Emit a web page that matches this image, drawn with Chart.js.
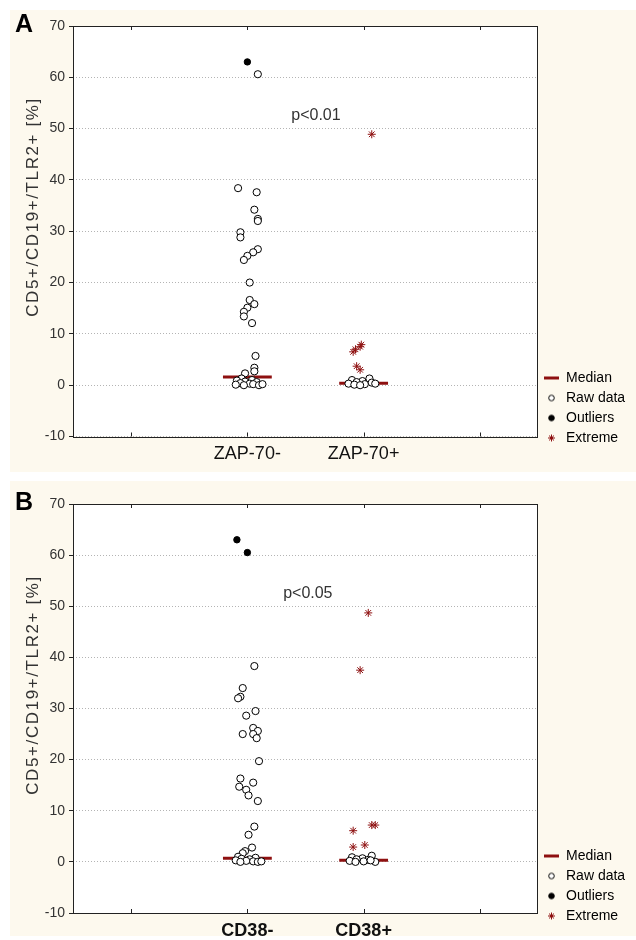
<!DOCTYPE html>
<html>
<head>
<meta charset="utf-8">
<script src="https://cdn.jsdelivr.net/npm/chart.js@4.4.0/dist/chart.umd.min.js"></script>
<style>
html, body { margin: 0; padding: 0; background: #fff; }
.panel { position: absolute; left: 10px; width: 626px; background: #fdf9ee; }
#panelA { top: 10px; height: 462px; }
#panelB { top: 481px; height: 455px; }
canvas { display: block; }
</style>
</head>
<body>
<div class="panel" id="panelA"><canvas id="chartA" width="626" height="462"></canvas></div>
<div class="panel" id="panelB"><canvas id="chartB" width="626" height="459"></canvas></div>
<script>
// ---- data ----
const yTitle = 'CD5+/CD19+/TLR2+ [%]';
const xTickValues = [1, 2, 3, 4];
const legendTexts = ['Median', 'Raw data', 'Outliers', 'Extreme'];

// panel A : ZAP-70
const zapCategories = ['ZAP-70-', 'ZAP-70+'];
const zapMedians = [1.6, 0.4];
const zapNegRaw = [60.6, 38.4, 37.6, 34.2, 32.4, 32.0, 29.8, 28.8, 26.5, 25.9, 25.2, 24.4, 20.0, 16.6, 15.8, 15.1, 14.3, 13.4, 12.1, 5.7, 3.4, 2.7, 2.3, 1.3, 1.0, 0.9, 0.7, 0.6, 0.4, 0.3, 0.2, 0.1, 0.0, 0.0, 0.2];
const zapNegRawJitter = [0.09, -0.08, 0.08, 0.06, 0.09, 0.09, -0.06, -0.06, 0.09, 0.05, 0.0, -0.03, 0.02, 0.02, 0.06, 0.0, -0.03, -0.03, 0.04, 0.07, 0.06, 0.06, -0.02, -0.05, 0.04, -0.09, -0.02, 0.08, -0.06, 0.02, 0.05, -0.1, -0.03, 0.1, 0.13];
const zapNegOutliers = [63.0];
const zapNegOutliersJitter = [0.0];
const zapPosRaw = [1.3, 1.0, 0.8, 0.6, 0.5, 0.3, 0.2, 0.1, 0.0, 0.3];
const zapPosRawJitter = [0.05, -0.1, -0.01, -0.06, 0.07, -0.13, 0.01, -0.08, -0.03, 0.1];
const zapPosExtreme = [48.9, 7.9, 7.5, 7.0, 6.5, 3.7, 3.0];
const zapPosExtremeJitter = [0.07, -0.02, -0.03, -0.07, -0.09, -0.06, -0.03];

// panel B : CD38
const cd38Categories = ['CD38-', 'CD38+'];
const cd38Medians = [0.7, 0.3];
const cd38NegRaw = [38.3, 34.0, 32.3, 32.0, 29.5, 28.6, 26.2, 25.6, 25.0, 25.0, 24.2, 19.7, 16.3, 15.5, 14.7, 14.1, 13.0, 11.9, 6.9, 5.3, 2.8, 2.1, 1.7, 1.0, 0.8, 0.6, 0.5, 0.3, 0.2, 0.1, 0.0, 0.0, 0.1];
const cd38NegRawJitter = [0.06, -0.04, -0.06, -0.08, 0.07, -0.01, 0.05, 0.09, -0.04, 0.05, 0.08, 0.1, -0.06, 0.05, -0.07, -0.01, 0.01, 0.09, 0.06, 0.01, 0.04, -0.02, -0.04, -0.08, 0.07, -0.05, 0.02, -0.1, -0.01, 0.05, -0.06, 0.09, 0.12];
const cd38NegOutliers = [63.0, 60.5];
const cd38NegOutliersJitter = [-0.09, 0.0];
const cd38PosRaw = [1.2, 0.9, 0.7, 0.5, 0.4, 0.2, 0.1, 0.0, 0.0, 0.3];
const cd38PosRawJitter = [0.07, -0.1, -0.01, -0.06, 0.04, -0.12, 0.0, -0.07, 0.1, 0.06];
const cd38PosExtreme = [48.7, 37.5, 7.2, 7.2, 6.1, 3.3, 2.9];
const cd38PosExtremeJitter = [0.04, -0.03, 0.07, 0.1, -0.09, 0.01, -0.09];

// ---- styling ----
const FONT = 'Arial, "Liberation Sans", sans-serif';
const RED = '#8e1010';
const MED_HALF = 0.21;
Chart.defaults.font.family = FONT;

function pts(center, values, jitter) {
	return values.map((v, i) => ({x: center + jitter[i], y: v}));
}

function markerImage(w, h, style) {
	let c = document.createElement('canvas');
	c.width = w;
	c.height = h;
	let ctx = c.getContext('2d');
	if(style == 'median') {
		ctx.fillStyle = RED;
		ctx.fillRect(0, 1, w, 3);
	} else {
		ctx.lineWidth = 1;
		ctx.strokeStyle = style == 'extreme' ? RED : '#000';
		ctx.fillStyle = style == 'outlier' ? '#000' : '#fff';
		Chart.helpers.drawPoint(ctx, {
			pointStyle: style == 'extreme' ? 'star' : 'circle',
			radius: style == 'extreme' ? 3.5 : 2.8,
			borderWidth: 1,
			rotation: 0,
		}, w / 2, h / 2);
	}
	return c;
}

const legendMarkers = [
	markerImage(15, 5, 'median'),
	markerImage(11, 11, 'raw'),
	markerImage(11, 11, 'outlier'),
	markerImage(11, 11, 'extreme'),
];

// measure legend so the plot's right edge lands where it should
let mctx = document.createElement('canvas').getContext('2d');
mctx.font = '14px ' + FONT;
let maxText = Math.max(...legendTexts.map(t => mctx.measureText(t).width));
let legendW = 6 + 15 + 7 + maxText + 10;

const decorPlugin = {
	id: 'decor',
	afterLayout: function(chart, args, o) {
		// pull the legend up so its last row sits level with the bottom of the plot
		chart.legend.top += o.legendShift;
		chart.legend.bottom += o.legendShift;
	},
	beforeDraw: function(chart) {
		let a = chart.chartArea;
		let ctx = chart.ctx;
		ctx.save();
		ctx.fillStyle = '#fff';
		ctx.fillRect(a.left, a.top, a.width, a.height);
		ctx.restore();
	},
	afterDraw: function(chart, args, o) {
		let ctx = chart.ctx;
		let a = chart.chartArea;
		let x = chart.scales.x, y = chart.scales.y;
		ctx.save();
		ctx.strokeStyle = '#222';
		ctx.lineWidth = 1;
		ctx.strokeRect(Math.round(a.left) + 0.5, Math.round(a.top) + 0.5, Math.round(a.width) - 1, Math.round(a.height));
		ctx.beginPath();
		xTickValues.forEach(v => {
			let px = Math.round(x.getPixelForValue(v)) + 0.5;
			ctx.moveTo(px, a.top);
			ctx.lineTo(px, a.top + 4);
			ctx.moveTo(px, a.bottom);
			ctx.lineTo(px, a.bottom - 4);
		});
		ctx.stroke();
		// panel letter
		ctx.fillStyle = '#000';
		ctx.font = 'bold 25px ' + FONT;
		ctx.textAlign = 'left';
		ctx.textBaseline = 'alphabetic';
		ctx.fillText(o.letter, 5, a.top + 6);
		// y title
		ctx.save();
		ctx.translate(23, a.top + 181);
		ctx.rotate(-Math.PI / 2);
		ctx.font = '17px ' + FONT;
		ctx.letterSpacing = '1.6px';
		ctx.textAlign = 'center';
		ctx.textBaseline = 'middle';
		ctx.fillStyle = '#333';
		ctx.fillText(yTitle, 0, 0);
		ctx.restore();
		// significance label
		ctx.font = '16px ' + FONT;
		ctx.fillStyle = '#333';
		ctx.textAlign = 'center';
		ctx.textBaseline = 'middle';
		ctx.fillText(o.pText, x.getPixelForValue(o.pX), y.getPixelForValue(o.pY));
		ctx.restore();
	},
};

function buildChart(canvasId, p) {
	let datasets = [
		{type: 'line', showLine: true, data: [{x: 2 - MED_HALF, y: p.medians[0]}, {x: 2 + MED_HALF, y: p.medians[0]}], borderColor: RED, borderWidth: 3, pointRadius: 0, order: 4},
		{type: 'line', showLine: true, data: [{x: 3 - MED_HALF, y: p.medians[1]}, {x: 3 + MED_HALF, y: p.medians[1]}], borderColor: RED, borderWidth: 3, pointRadius: 0, order: 4},
		{data: pts(2, p.negRaw, p.negRawJitter).concat(pts(3, p.posRaw, p.posRawJitter)), pointStyle: 'circle', pointRadius: 3.6, backgroundColor: '#fff', borderColor: '#000', borderWidth: 1, order: 3},
		{data: pts(2, p.negOut, p.negOutJitter), pointStyle: 'circle', pointRadius: 3.2, backgroundColor: '#000', borderColor: '#000', borderWidth: 1, order: 2},
		{data: pts(3, p.posExt, p.posExtJitter), pointStyle: 'star', pointRadius: 4, backgroundColor: RED, borderColor: RED, borderWidth: 1, order: 1},
	];
	let padRight = Math.max(0, p.width - p.plotRight - legendW);
	// legend row centre ends up 13px above the canvas bottom; move it to the wanted spot
	let legendShift = p.legendLastY - (p.height - 13);
	let config = {
		type: 'scatter',
		data: {datasets: datasets},
		options: {
			responsive: false,
			animation: false,
			events: [],
			layout: {padding: {left: 0, top: p.plotTop, right: padRight, bottom: 0}},
			scales: {
				x: {
					type: 'linear',
					min: 0.5,
					max: 4.5,
					afterBuildTicks: s => { s.ticks = xTickValues.map(v => ({value: v})); },
					afterFit: s => { s.height = p.height - p.plotBottom; },
					grid: {display: false, drawTicks: false},
					border: {display: false},
					ticks: {
						autoSkip: false,
						maxRotation: 0,
						padding: 7,
						color: '#111',
						font: {size: 18, weight: p.catWeight},
						callback: v => p.categories[v - 2] || '',
					},
				},
				y: {
					min: -10,
					max: 70,
					afterFit: s => { s.width = p.plotLeft; },
					ticks: {stepSize: 10, padding: 4, color: '#333', font: {size: 14}},
					grid: {color: '#b4b4b4', tickColor: '#222', tickLength: 4},
					border: {display: false, dash: [1, 2]},
				},
			},
			plugins: {
				tooltip: {enabled: false},
				legend: {
					position: 'right',
					align: 'end',
					labels: {
						usePointStyle: true,
						pointStyleWidth: 15,
						padding: 6,
						color: '#333',
						font: {size: 14},
						generateLabels: () => legendTexts.map((t, i) => ({
							text: t,
							pointStyle: legendMarkers[i],
							fillStyle: '#fff',
							strokeStyle: '#fff',
							lineWidth: 0,
							hidden: false,
							datasetIndex: i,
						})),
					},
				},
				decor: {letter: p.letter, pText: p.pText, pX: p.pX, pY: p.pY, legendShift: legendShift},
			},
		},
		plugins: [decorPlugin],
	};
	return new Chart(document.getElementById(canvasId).getContext('2d'), config);
}

buildChart('chartA', {
	letter: 'A', categories: zapCategories, catWeight: 'normal', medians: zapMedians,
	negRaw: zapNegRaw, negRawJitter: zapNegRawJitter, negOut: zapNegOutliers, negOutJitter: zapNegOutliersJitter,
	posRaw: zapPosRaw, posRawJitter: zapPosRawJitter, posExt: zapPosExtreme, posExtJitter: zapPosExtremeJitter,
	pText: 'p<0.01', pX: 2.59, pY: 52.6,
	width: 626, height: 462, plotLeft: 63, plotRight: 528, plotTop: 16, plotBottom: 426.5, legendLastY: 428,
});

buildChart('chartB', {
	letter: 'B', categories: cd38Categories, catWeight: 'bold', medians: cd38Medians,
	negRaw: cd38NegRaw, negRawJitter: cd38NegRawJitter, negOut: cd38NegOutliers, negOutJitter: cd38NegOutliersJitter,
	posRaw: cd38PosRaw, posRawJitter: cd38PosRawJitter, posExt: cd38PosExtreme, posExtJitter: cd38PosExtremeJitter,
	pText: 'p<0.05', pX: 2.52, pY: 52.5,
	width: 626, height: 459, plotLeft: 63, plotRight: 528, plotTop: 23, plotBottom: 432, legendLastY: 435,
});
</script>
</body>
</html>
